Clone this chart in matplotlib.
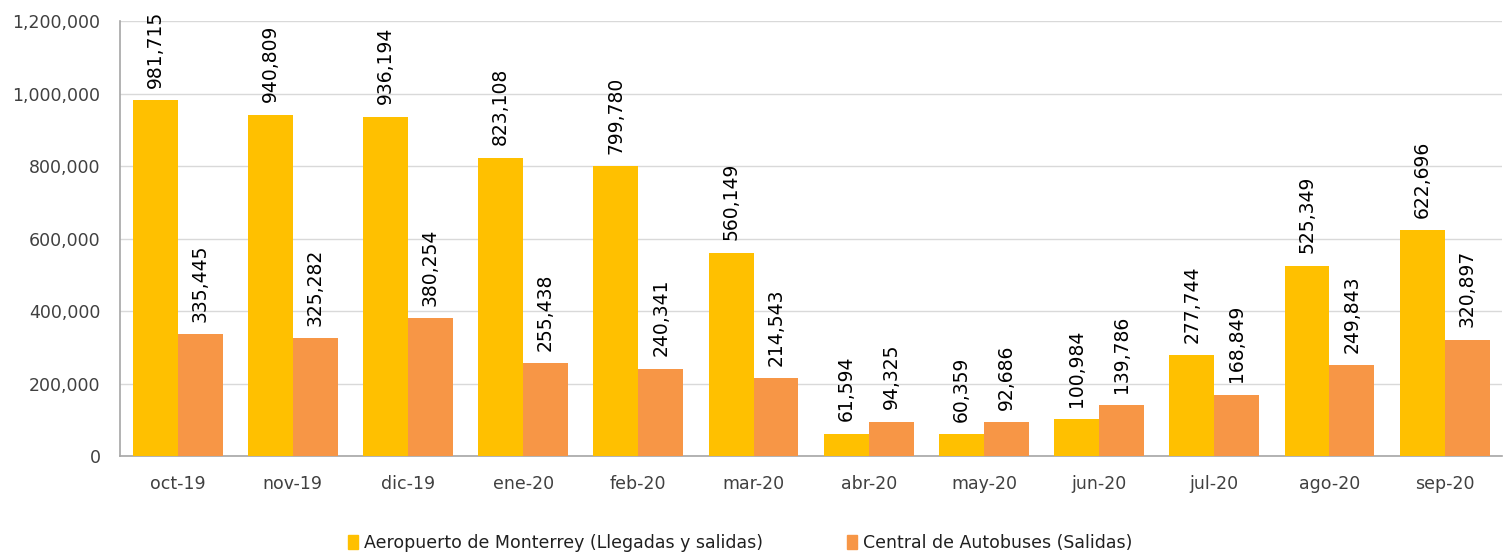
import matplotlib
matplotlib.use("Agg")
import matplotlib.pyplot as plt
import numpy as np
from matplotlib.ticker import FuncFormatter
from matplotlib.patches import Patch

categories = ["oct-19", "nov-19", "dic-19", "ene-20", "feb-20", "mar-20",
              "abr-20", "may-20", "jun-20", "jul-20", "ago-20", "sep-20"]
aeropuerto = [981715, 940809, 936194, 823108, 799780, 560149,
              61594, 60359, 100984, 277744, 525349, 622696]
autobuses = [335445, 325282, 380254, 255438, 240341, 214543,
             94325, 92686, 139786, 168849, 249843, 320897]
series_names = ["Aeropuerto de Monterrey (Llegadas y salidas)",
                "Central de Autobuses (Salidas)"]
colors = ["#FFC000", "#F79646"]

plt.rcParams['font.family'] = ['DejaVu Sans']

fig = plt.figure(figsize=(15.04, 5.53), dpi=100)
ax = fig.add_axes([0.0798, 0.1754, 0.919, 0.7866])

x = np.arange(len(categories))
w = 0.39
b1 = ax.bar(x - w/2, aeropuerto, w, color=colors[0], zorder=3)
b2 = ax.bar(x + w/2, autobuses, w, color=colors[1], zorder=3)

for bars, vals in ((b1, aeropuerto), (b2, autobuses)):
    for r, v in zip(bars, vals):
        ax.annotate(f"{v:,}", (r.get_x() + r.get_width()/2, v),
                    xytext=(0, 9), textcoords="offset points",
                    rotation=90, ha="center", va="bottom", fontsize=13.5,
                    color="#000000")

ax.set_ylim(0, 1200000)
ax.set_xlim(-0.5, len(categories) - 0.5)
ax.set_yticks(np.arange(0, 1200001, 200000))
ax.yaxis.set_major_formatter(FuncFormatter(lambda v, p: f"{int(v):,}"))
ax.set_xticks(x)
ax.set_xticklabels(categories)
ax.tick_params(axis='both', length=0, labelsize=12.5, colors="#404040")
ax.tick_params(axis='x', pad=14)
ax.tick_params(axis='y', pad=14)
ax.grid(axis='y', color="#D9D9D9", linewidth=1, zorder=0)
for s in ["top", "right"]:
    ax.spines[s].set_visible(False)
ax.spines["left"].set_color("#A6A6A6")
ax.spines["bottom"].set_color("#A6A6A6")
ax.spines["left"].set_linewidth(1.2)
ax.spines["bottom"].set_linewidth(1.2)

handles = [Patch(color=c) for c in colors]
fig.legend(handles, series_names, loc="center", bbox_to_anchor=(0.492, 0.018),
           ncol=2, frameon=False, fontsize=12.5, handlelength=0.6,
           handleheight=0.9, handletextpad=0.3, columnspacing=4.85,
           labelcolor="#202020")

fig.savefig("out.png", dpi=100)
